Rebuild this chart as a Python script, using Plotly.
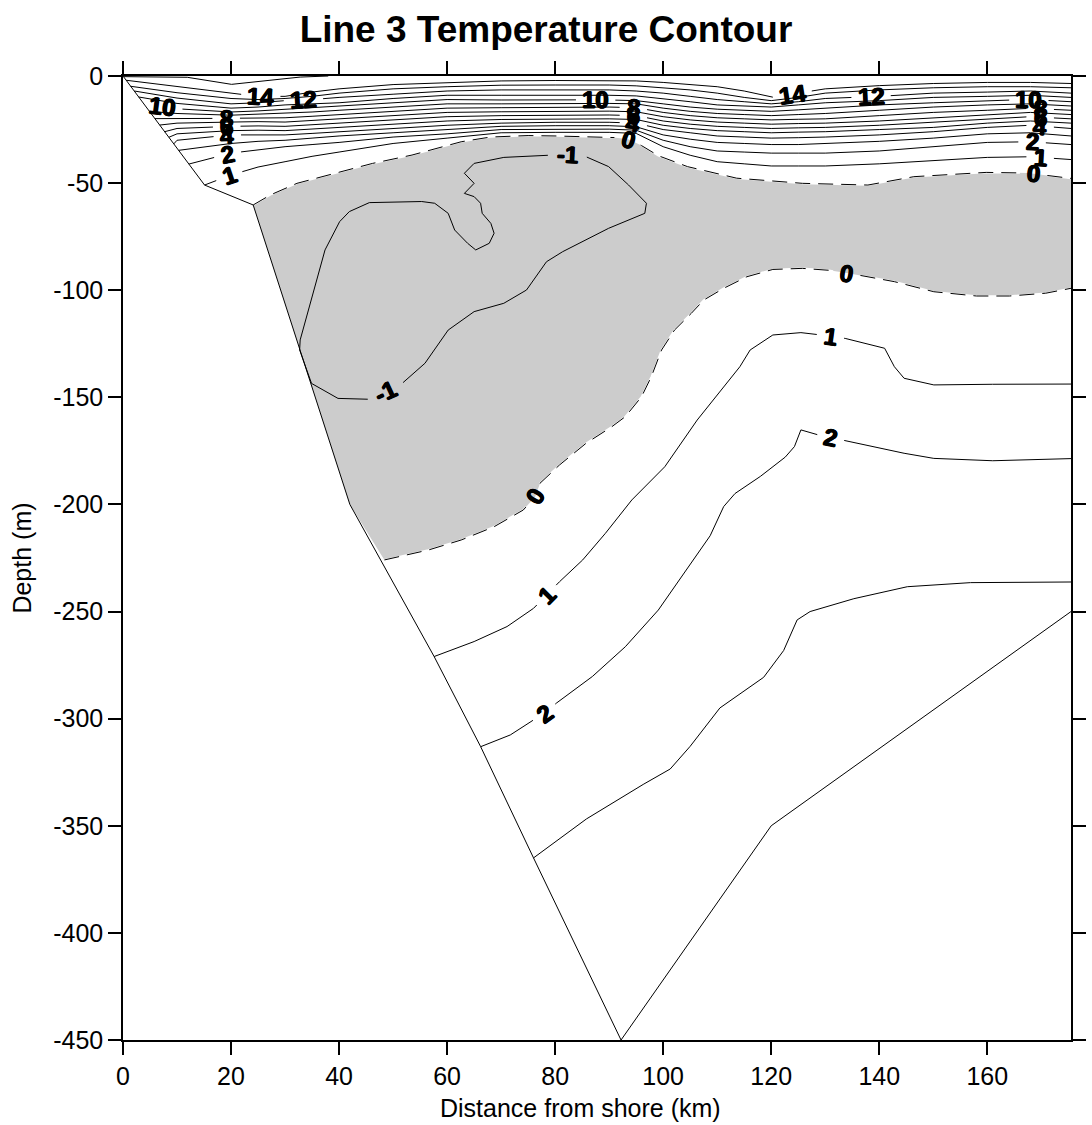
import math
import plotly.graph_objects as go

# ---------------- data ----------------
# Seafloor profile along the section (distance km, depth m)
bottom_x = [0, 15.1, 24.1, 42.0, 57.6, 66.2, 76.0, 92.2, 120.0, 175.5]
bottom_d = [0, -50.9, -60.2, -200.0, -271.0, -313.0, -365.0, -450.0, -350.0, -250.0]

# Upper-layer isotherms sampled at common stations; each starts on the slope
station_x = [10, 20, 25, 30, 35, 40, 50, 60, 70, 80, 90, 95, 100, 105, 110, 115, 120, 125, 130, 140, 150, 160, 168, 175.5]
upper_levels = [14, 13, 12, 11, 10, 9, 8, 7, 6, 5, 4, 3, 2, 1]
upper_start_x = [0.6, 1.4, 2.1, 2.9, 3.9, 4.9, 5.9, 6.8, 7.7, 8.5, 9.4, 10.3, 12.2, 15.1]
upper_start_d = [-2.0, -4.8, -7.0, -9.8, -13.1, -16.5, -19.9, -22.9, -26.0, -28.6, -31.7, -34.7, -41.1, -50.9]
t14_d = [-5, -8, -9.5, -9.5, -7.5, -6, -4, -3, -2.3, -2.1, -2.1, -2.3, -3, -4, -5, -7, -10, -8, -6, -4.5, -3.5, -3, -3, -3.5]
t13_d = [-7.8, -10.5, -11, -10.5, -9.5, -8, -6, -5, -4.3, -4.2, -4.2, -4.6, -5.5, -6.5, -8, -10, -11.5, -10, -8, -6.5, -5.5, -5, -5, -5.5]
t12_d = [-10.3, -13, -12.5, -11.5, -11, -10, -8.5, -7, -6.5, -6.5, -6.5, -7, -8, -9.5, -11, -12, -13, -12, -10.5, -9.5, -8, -7.5, -7, -8]
t11_d = [-12.8, -15, -14.5, -13.5, -13, -12.5, -10.5, -9, -9, -8.9, -9, -9.3, -10.5, -12, -13.5, -14, -14.5, -13.5, -12.5, -11.5, -10, -9.5, -9, -10]
t10_d = [-15.3, -16.8, -16.3, -15.5, -14.8, -14, -12.5, -11, -11.2, -11.1, -11.2, -11.5, -13, -14.5, -15.5, -16, -16.5, -15.8, -15, -13.5, -12.5, -11.5, -11, -12]
t9_d = [-17.5, -18.3, -17.8, -17.5, -16.8, -16, -14.5, -13, -13, -12.8, -12.8, -13, -15, -16.5, -17.5, -18, -18.5, -18, -17.5, -16, -14.5, -13.5, -13, -14]
t8_d = [-19.8, -19.8, -19.5, -19.5, -18.8, -18, -16.5, -15, -14.8, -14.5, -14.5, -14.8, -17, -18.5, -19.5, -20, -20.5, -20.2, -20, -18.5, -17, -16, -15.1, -16]
t7_d = [-22, -21.5, -21.3, -21.5, -20.8, -20, -18.5, -17, -16.7, -16.4, -16.4, -16.7, -19, -20.5, -21.5, -22, -22.5, -22.2, -22, -21, -19.5, -18, -17, -18]
t6_d = [-24.5, -23.5, -23.3, -23.5, -22.8, -22, -20.5, -19, -18.5, -18.2, -18.2, -18.5, -21, -22.5, -23.5, -24, -24.5, -24.2, -24, -23, -21.5, -20, -19, -20]
t5_d = [-27, -25.5, -25.3, -25.5, -24.8, -24, -22.5, -21, -20.3, -20, -20, -20.3, -23, -24.5, -25.5, -26, -26.5, -26.2, -26, -25, -24, -22, -21, -22]
t4_d = [-30, -27.5, -27.5, -27.5, -26.8, -26, -24.5, -23, -22, -21.6, -21.6, -22, -25, -26.5, -28, -28.5, -29, -28.8, -28.5, -27.5, -26, -24, -23, -24.5]
t3_d = [None, -31.5, -30.5, -30, -29, -28, -26.5, -25, -23.5, -23.2, -23.2, -23.7, -27.5, -29.5, -31, -31.5, -32, -32, -31.5, -30.5, -29, -27, -26.5, -28]
t2_d = [None, -36, -34.5, -33, -32, -31, -28.5, -27, -25, -24.8, -24.8, -25.3, -30, -33, -35, -35.5, -36, -36, -36, -35, -33, -31, -30.7, -32]
t1_d = [None, -46.2, -42.5, -40, -37.5, -35.5, -31.5, -29, -26.5, -26.3, -26.3, -26.8, -33, -37, -40, -41, -42, -42, -42, -41, -39.5, -38, -37.7, -39]
upper_depths = [t14_d, t13_d, t12_d, t11_d, t10_d, t9_d, t8_d, t7_d, t6_d, t5_d, t4_d, t3_d, t2_d, t1_d]

# Warm surface lens (15 deg)
t15_x = [0.1, 11.9, 20.1, 32.8, 38.0]
t15_d = [-0.3, -0.6, -3.9, -0.5, 0.0]

# 0 deg isotherm, top of the cold layer
zero_up_x = [24.1, 27.3, 32.2, 38.3, 46.2, 53.5, 62.6, 68.0, 75.0, 80.2, 90.5, 93.5, 96.0, 99.1, 104.5, 113.6, 125.8, 137.9, 146.4, 159.8, 167.5, 175.5]
zero_up_d = [-60.2, -55.5, -50.1, -46.2, -40.8, -36.9, -30.7, -28.5, -27.8, -28.0, -28.6, -29.5, -32.5, -37.2, -42.3, -47.7, -50.1, -50.9, -47.0, -45.0, -45.3, -47.8]

# 0 deg isotherm, bottom of the cold layer
zero_lo_x = [48.4, 56.5, 62.6, 68.7, 74.1, 76.3, 77.2, 80.8, 85.7, 90.5, 93.0, 96.0, 97.8, 99.7, 102.1, 105.2, 107.5, 111.2, 115.5, 120.3, 125.8, 130.7, 134.0, 137.9, 142.8, 150.1, 158.0, 164.1, 170.8, 175.5]
zero_lo_d = [-225.9, -221.3, -216.6, -210.4, -202.6, -196.4, -190.1, -181.6, -171.5, -163.7, -159.0, -149.7, -140.4, -127.9, -118.6, -110.8, -104.6, -99.1, -93.7, -90.3, -89.8, -90.7, -92.0, -93.7, -96.0, -100.7, -102.7, -102.7, -101.4, -99.1]

# -1 deg core (closed loop)
minus1_x = [96.9, 96.6, 89.9, 81.4, 78.4, 74.7, 70.5, 65.0, 60.2, 55.9, 51.0, 48.6, 45.6, 39.8, 34.9, 32.7, 32.8, 35.3, 37.4, 40.1, 41.9, 45.6, 55.3, 57.7, 60.2, 61.4, 63.8, 65.3, 67.8, 68.7, 68.1, 66.5, 66.2, 65.0, 63.2, 65.0, 63.2, 65.0, 70.5, 79.6, 82.3, 85.0, 89.9, 93.6, 96.9]
minus1_d = [-59.4, -64.1, -71.1, -82.0, -86.7, -99.9, -106.1, -110.0, -118.6, -134.1, -145.0, -147.5, -150.9, -150.5, -143.5, -127.9, -123.2, -99.9, -81.2, -68.0, -63.3, -59.1, -58.6, -59.4, -64.1, -71.9, -78.1, -81.2, -78.1, -73.4, -68.8, -64.1, -59.4, -56.3, -54.8, -50.1, -45.4, -40.8, -38.0, -36.9, -36.8, -36.9, -42.3, -50.9, -59.4]

# Deep isotherms
one_deep_x = [57.6, 65.0, 71.1, 76.0, 78.4, 80.8, 85.1, 89.3, 94.2, 100.3, 106.3, 111.2, 114.2, 116.1, 120.3, 125.5, 129.6, 133.7, 141.0, 142.8, 144.6, 150.1, 161.0, 175.5]
one_deep_d = [-271.0, -264.0, -257.0, -248.5, -242.3, -236.1, -225.9, -213.5, -197.9, -182.4, -160.6, -145.0, -135.7, -127.9, -120.9, -119.8, -121.0, -122.5, -127.1, -135.7, -141.1, -144.2, -143.9, -143.8]
two_deep_x = [66.2, 71.7, 76.0, 78.1, 80.2, 86.9, 93.0, 99.1, 105.1, 108.7, 111.2, 113.3, 118.0, 122.6, 124.3, 125.5, 128.8, 131.0, 133.1, 144.6, 150.1, 161.0, 175.5]
two_deep_d = [-313.1, -307.6, -300.6, -297.5, -292.8, -280.3, -266.4, -249.3, -227.5, -214.6, -201.0, -194.9, -186.9, -177.9, -173.0, -165.2, -167.6, -168.8, -169.9, -176.1, -178.5, -179.6, -178.6]
three_deep_x = [76.0, 79.6, 85.8, 96.3, 101.3, 105.0, 110.5, 118.6, 122.3, 124.8, 127.2, 135.3, 145.2, 156.9, 175.5]
three_deep_d = [-365.0, -358.4, -346.8, -330.7, -323.5, -312.9, -295.0, -280.7, -268.2, -253.9, -250.0, -244.0, -238.4, -236.5, -236.2]

# Contour labels: level and approximate spot on the section
label_level = [14, 14, 12, 12, 10, 10, 10, 8, 8, 8, 6, 6, 6, 4, 4, 4, 2, 2, 1, 1,
               0, 0, -1, -1, 0, 0, 1, 1, 2, 2]
label_x = [25.5, 124.0, 33.4, 138.5, 7.3, 87.5, 167.7, 19.1, 94.5, 169.8, 19.2, 94.5, 169.8, 19.3, 94.5, 169.8, 19.3, 168.3, 19.6, 169.8,
           93.6, 168.6, 82.3, 48.6, 134.0, 76.3, 131.0, 78.4, 131.0, 78.1]
label_d = [-10.0, -10.0, -11.0, -10.4, -16.0, -11.2, -11.0, -19.8, -14.0, -15.1, -23.5, -18.0, -19.0, -27.5, -22.0, -23.0, -36.0, -30.7, -46.2, -37.7,
           -29.0, -45.4, -37.0, -147.0, -92.0, -196.4, -121.0, -242.3, -169.0, -297.5]

x_ticks = [0, 20, 40, 60, 80, 100, 120, 140, 160]
y_ticks = [0, -50, -100, -150, -200, -250, -300, -350, -400, -450]

# ---------------- geometry ----------------
W, H = 1092, 1125
MARGIN = dict(l=123, r=6, t=76, b=85)
X_RANGE = [0, 175.5]
Y_RANGE = [-450, 0]
KX = (W - MARGIN["l"] - MARGIN["r"]) / (X_RANGE[1] - X_RANGE[0])
KY = (H - MARGIN["t"] - MARGIN["b"]) / (Y_RANGE[1] - Y_RANGE[0])
FONT = "Liberation Sans, Arial, Helvetica, sans-serif"
LABEL_SIZE = 24
# a thin outline in the text colour makes the contour labels extra heavy
LABEL_SHADOW = "0.7px 0 0 black, -0.7px 0 0 black, 0 0.5px 0 black, 0 -0.5px 0 black"


def to_px(x, d):
    return x * KX, -d * KY


def arclen(xs, ds):
    s = [0.0]
    for i in range(1, len(xs)):
        s.append(s[-1] + math.dist(to_px(xs[i - 1], ds[i - 1]), to_px(xs[i], ds[i])))
    return s


def point_at(xs, ds, s, t):
    t = max(0.0, min(s[-1], t))
    for i in range(len(s) - 1):
        if s[i + 1] >= t:
            f = 0.0 if s[i + 1] == s[i] else (t - s[i]) / (s[i + 1] - s[i])
            return xs[i] + f * (xs[i + 1] - xs[i]), ds[i] + f * (ds[i + 1] - ds[i])
    return xs[-1], ds[-1]


def nearest(xs, ds, s, x, d):
    p = to_px(x, d)
    best = (1e18, 0.0)
    for i in range(len(xs) - 1):
        a, b = to_px(xs[i], ds[i]), to_px(xs[i + 1], ds[i + 1])
        vx, vy = b[0] - a[0], b[1] - a[1]
        l2 = vx * vx + vy * vy
        f = 0.0 if l2 == 0 else max(0.0, min(1.0, ((p[0] - a[0]) * vx + (p[1] - a[1]) * vy) / l2))
        q = (a[0] + f * vx, a[1] + f * vy)
        dist = math.dist(p, q)
        if dist < best[0]:
            best = (dist, s[i] + f * math.sqrt(l2))
    return best


# ---------------- assemble isotherms ----------------
contours = []  # (level, xs, ds, dashed)
contours.append((15, t15_x, t15_d, False))
for lev, sx, sd, vals in zip(upper_levels, upper_start_x, upper_start_d, upper_depths):
    xs, ds = [sx], [sd]
    for x, v in zip(station_x, vals):
        if v is not None and x > sx:
            xs.append(x)
            ds.append(v)
    contours.append((lev, xs, ds, False))
contours.append((0, zero_up_x, zero_up_d, True))
contours.append((0, zero_lo_x, zero_lo_d, True))
contours.append((-1, minus1_x, minus1_d, False))
contours.append((1, one_deep_x, one_deep_d, False))
contours.append((2, two_deep_x, two_deep_d, False))
contours.append((3, three_deep_x, three_deep_d, False))

arcs = [arclen(c[1], c[2]) for c in contours]
cuts = [[] for _ in contours]
labels = []
for lev, lx, ld in zip(label_level, label_x, label_d):
    best = None
    for k, (clev, xs, ds, _) in enumerate(contours):
        if clev != lev:
            continue
        dist, pos = nearest(xs, ds, arcs[k], lx, ld)
        if best is None or dist < best[0]:
            best = (dist, k, pos)
    _, k, pos = best
    text = str(lev)
    half = 8 + 6 * len(text)
    xs, ds, s = contours[k][1], contours[k][2], arcs[k]
    cuts[k].append((pos - half, pos + half))
    x1, d1 = point_at(xs, ds, s, pos - half)
    x2, d2 = point_at(xs, ds, s, pos + half)
    p1, p2 = to_px(x1, d1), to_px(x2, d2)
    ang = math.degrees(math.atan2(p2[1] - p1[1], p2[0] - p1[0]))
    if ang > 90:
        ang -= 180
    if ang < -90:
        ang += 180
    cx, cd = point_at(xs, ds, s, pos)
    labels.append((cx, cd, text, ang))


def split_line(xs, ds, s, cut_list):
    pieces, start = [], 0.0
    for lo, hi in sorted(cut_list):
        pieces.append((start, lo))
        start = max(start, hi)
    pieces.append((start, s[-1]))
    ox, od = [], []
    for a, b in pieces:
        if b <= a:
            continue
        pa = point_at(xs, ds, s, a)
        ox.append(pa[0]); od.append(pa[1])
        for k in range(len(xs)):
            if a < s[k] < b:
                ox.append(xs[k]); od.append(ds[k])
        pb = point_at(xs, ds, s, b)
        ox.append(pb[0]); od.append(pb[1])
        ox.append(None); od.append(None)
    return ox, od


fig = go.Figure()

# Cold-water (< 0 deg) region bounded by the 0 deg isotherm and the seafloor
slope_pts = [(x, d) for x, d in zip(bottom_x, bottom_d) if zero_up_x[0] < x < zero_lo_x[0]]
poly_x = zero_up_x + zero_lo_x[::-1] + [p[0] for p in slope_pts[::-1]] + [zero_up_x[0]]
poly_d = zero_up_d + zero_lo_d[::-1] + [p[1] for p in slope_pts[::-1]] + [zero_up_d[0]]
fig.add_trace(go.Scatter(x=poly_x, y=poly_d, mode="lines", fill="toself",
                         fillcolor="#cccccc", line=dict(width=0), hoverinfo="skip"))

for k, (lev, xs, ds, dashed) in enumerate(contours):
    ox, od = split_line(xs, ds, arcs[k], cuts[k])
    if dashed:
        fig.add_trace(go.Scatter(x=ox, y=od, mode="lines",
                                 line=dict(color="white", width=1.6), hoverinfo="skip"))
        fig.add_trace(go.Scatter(x=ox, y=od, mode="lines",
                                 line=dict(color="black", width=1, dash="15px,8px"), hoverinfo="skip"))
    else:
        fig.add_trace(go.Scatter(x=ox, y=od, mode="lines",
                                 line=dict(color="black", width=1), hoverinfo="skip"))

# Seafloor
fig.add_trace(go.Scatter(x=bottom_x, y=bottom_d, mode="lines",
                         line=dict(color="black", width=1), hoverinfo="skip"))

for cx, cd, text, ang in labels:
    fig.add_annotation(x=cx, y=cd, text="<b>" + text + "</b>", showarrow=False,
                       textangle=ang, xanchor="center", yanchor="middle",
                       font=dict(family=FONT, size=LABEL_SIZE, color="black",
                                 shadow=LABEL_SHADOW))

fig.add_annotation(text="Distance from shore (km)", xref="paper", yref="paper",
                   x=(588 - MARGIN["l"]) / (W - MARGIN["l"] - MARGIN["r"]),
                   y=-(1108 - (H - MARGIN["b"])) / (H - MARGIN["t"] - MARGIN["b"]),
                   showarrow=False, xanchor="center", yanchor="middle",
                   font=dict(family=FONT, size=25, color="black"))
fig.add_annotation(text="Depth (m)", xref="paper", yref="paper",
                   x=-(MARGIN["l"] - 20) / (W - MARGIN["l"] - MARGIN["r"]), y=0.5,
                   textangle=-90, showarrow=False, xanchor="center", yanchor="middle",
                   font=dict(family=FONT, size=25, color="black"))

axis_common = dict(showline=True, linecolor="black", linewidth=1.5, mirror="ticks",
                   ticks="outside", ticklen=13, tickwidth=1.5, tickcolor="black",
                   showgrid=False, zeroline=False,
                   tickfont=dict(family=FONT, size=25, color="black"))
fig.update_xaxes(range=X_RANGE, tickvals=x_ticks, ticktext=[str(v) for v in x_ticks], **axis_common)
fig.update_yaxes(range=Y_RANGE, tickvals=y_ticks, ticktext=[str(v) for v in y_ticks], **axis_common)

fig.update_layout(
    width=W, height=H, margin=MARGIN,
    paper_bgcolor="white", plot_bgcolor="white", showlegend=False,
    title=dict(text="<b>Line 3 Temperature Contour</b>", x=0.5, xref="container",
               y=1 - 29 / H, yref="container", xanchor="center", yanchor="middle",
               font=dict(family=FONT, size=37, color="black")),
)

fig.write_html("out.html")
